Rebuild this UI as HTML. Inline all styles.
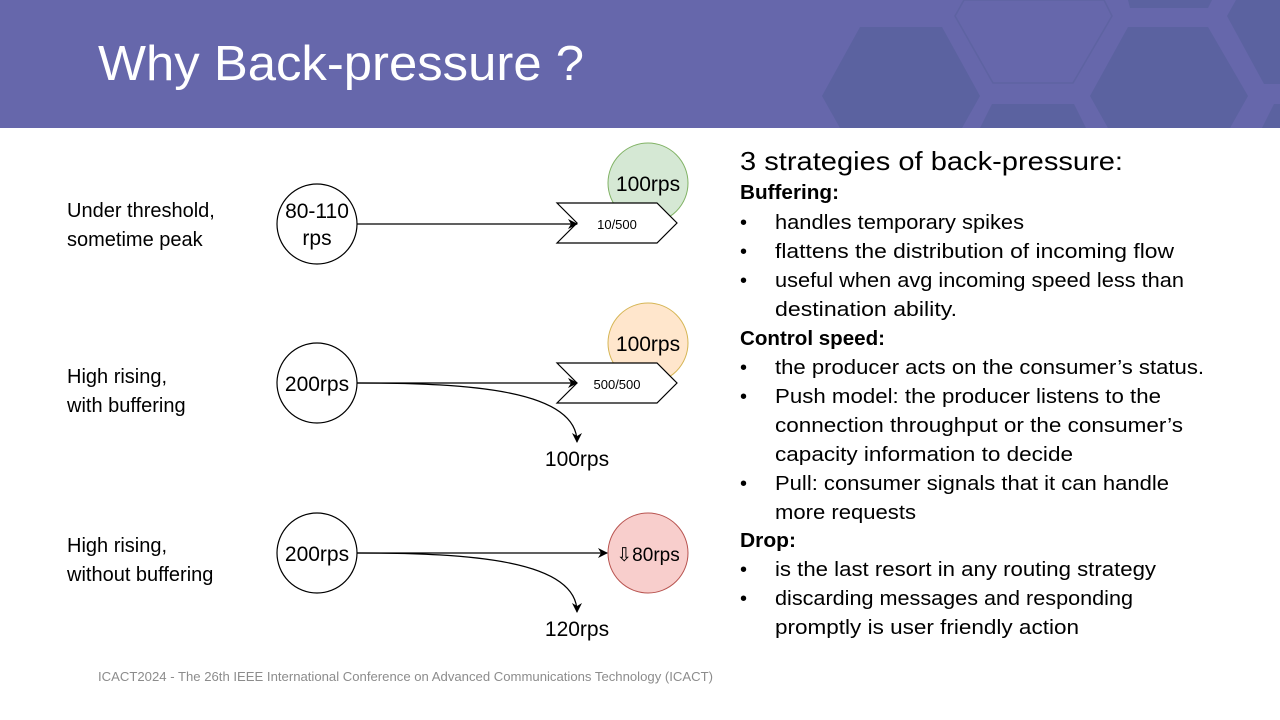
<!DOCTYPE html>
<html><head><meta charset="utf-8"><style>
html,body{margin:0;padding:0;background:#fff}
svg{display:block}
text{font-family:"Liberation Sans",sans-serif}
</style></head><body>
<svg width="1280" height="720" viewBox="0 0 1280 720" xmlns="http://www.w3.org/2000/svg">
<defs>
<marker id="ah" markerWidth="10" markerHeight="10" refX="9" refY="5" orient="auto" markerUnits="userSpaceOnUse">
<path d="M0,0 L10,5 L0,10 L3,5 Z" fill="#000"/>
</marker>
</defs>
<rect x="0" y="0" width="1280" height="128" fill="#6667ab"/>
<g fill="#5b62a0">
<polygon points="822,96 860,27 942,27 980,96 962,128 840,128"/>
<polygon points="1090,96 1128,27 1208,27 1248,96 1230,128 1108,128"/>
<polygon points="1128,0 1212,0 1208,8 1130,8"/>
<polygon points="1227,16 1236,0 1280,0 1280,84 1264,84"/>
<polygon points="980,128 992,104 1074,104 1086,128"/>
<polygon points="1262,128 1274,104 1280,104 1280,128"/>
</g>
<polygon points="955,16 964,0 1104,0 1112,16 1073,83 993,83" fill="none" stroke="#5e63a2" stroke-width="1.5"/>
<text x="98" y="80" font-size="49" fill="#fff" textLength="486" lengthAdjust="spacingAndGlyphs">Why Back-pressure ?</text>

<!-- left labels -->
<g font-size="20" fill="#000">
<text x="67" y="217">Under threshold,</text>
<text x="67" y="246">sometime peak</text>
<text x="67" y="383">High rising,</text>
<text x="67" y="412">with buffering</text>
<text x="67" y="552">High rising,</text>
<text x="67" y="581">without buffering</text>
</g>

<!-- row 1 -->
<circle cx="648" cy="183" r="40" fill="#d5e8d4" stroke="#82b366"/>
<text x="648" y="191" font-size="21" text-anchor="middle">100rps</text>
<polygon points="557,203 657,203 677,223 657,243 557,243 577,223" fill="#fff" stroke="#000" stroke-width="1.2"/>
<text x="617" y="229" font-size="13" text-anchor="middle">10/500</text>
<circle cx="317" cy="224" r="40" fill="#fff" stroke="#000" stroke-width="1.2"/>
<text x="317" y="218" font-size="21" text-anchor="middle">80-110</text>
<text x="317" y="245" font-size="21" text-anchor="middle">rps</text>
<line x1="357" y1="224" x2="577" y2="224" stroke="#000" stroke-width="1.2" marker-end="url(#ah)"/>

<!-- row 2 -->
<circle cx="648" cy="343" r="40" fill="#ffe6cc" stroke="#d6b656"/>
<text x="648" y="351" font-size="21" text-anchor="middle">100rps</text>
<polygon points="557,363 657,363 677,383 657,403 557,403 577,383" fill="#fff" stroke="#000" stroke-width="1.2"/>
<text x="617" y="389" font-size="13" text-anchor="middle">500/500</text>
<circle cx="317" cy="383" r="40" fill="#fff" stroke="#000" stroke-width="1.2"/>
<text x="317" y="391" font-size="21" text-anchor="middle">200rps</text>
<line x1="357" y1="383" x2="577" y2="383" stroke="#000" stroke-width="1.2" marker-end="url(#ah)"/>
<path d="M357,383 C470,383 577,390 577,442" fill="none" stroke="#000" stroke-width="1.2" marker-end="url(#ah)"/>
<text x="577" y="466" font-size="21" text-anchor="middle">100rps</text>

<!-- row 3 -->
<circle cx="648" cy="553" r="40" fill="#f8cecc" stroke="#b85450"/>
<text x="648" y="561" font-size="19" text-anchor="middle">⇩80rps</text>
<circle cx="317" cy="553" r="40" fill="#fff" stroke="#000" stroke-width="1.2"/>
<text x="317" y="561" font-size="21" text-anchor="middle">200rps</text>
<line x1="357" y1="553" x2="607" y2="553" stroke="#000" stroke-width="1.2" marker-end="url(#ah)"/>
<path d="M357,553 C470,553 577,560 577,612" fill="none" stroke="#000" stroke-width="1.2" marker-end="url(#ah)"/>
<text x="577" y="636" font-size="21" text-anchor="middle">120rps</text>

<!-- right text -->
<g font-size="20" fill="#000">
<text x="740" y="170" font-size="26" textLength="383" lengthAdjust="spacingAndGlyphs">3 strategies of back-pressure:</text>
<text x="740" y="199" font-weight="bold" textLength="99" lengthAdjust="spacingAndGlyphs">Buffering:</text>
<text x="740" y="229">•</text><text x="775" y="229" textLength="249" lengthAdjust="spacingAndGlyphs">handles temporary spikes</text>
<text x="740" y="258">•</text><text x="775" y="258" textLength="399" lengthAdjust="spacingAndGlyphs">flattens the distribution of incoming flow</text>
<text x="740" y="287">•</text><text x="775" y="287" textLength="409" lengthAdjust="spacingAndGlyphs">useful when avg incoming speed less than</text>
<text x="775" y="316" textLength="182" lengthAdjust="spacingAndGlyphs">destination ability.</text>
<text x="740" y="345" font-weight="bold" textLength="145" lengthAdjust="spacingAndGlyphs">Control speed:</text>
<text x="740" y="374">•</text><text x="775" y="374" textLength="429" lengthAdjust="spacingAndGlyphs">the producer acts on the consumer’s status.</text>
<text x="740" y="403">•</text><text x="775" y="403" textLength="386" lengthAdjust="spacingAndGlyphs">Push model: the producer listens to the</text>
<text x="775" y="432" textLength="408" lengthAdjust="spacingAndGlyphs">connection throughput or the consumer’s</text>
<text x="775" y="461" textLength="298" lengthAdjust="spacingAndGlyphs">capacity information to decide</text>
<text x="740" y="490">•</text><text x="775" y="490" textLength="394" lengthAdjust="spacingAndGlyphs">Pull: consumer signals that it can handle</text>
<text x="775" y="519" textLength="141" lengthAdjust="spacingAndGlyphs">more requests</text>
<text x="740" y="547" font-weight="bold" textLength="56" lengthAdjust="spacingAndGlyphs">Drop:</text>
<text x="740" y="576">•</text><text x="775" y="576" textLength="381" lengthAdjust="spacingAndGlyphs">is the last resort in any routing strategy</text>
<text x="740" y="605">•</text><text x="775" y="605" textLength="358" lengthAdjust="spacingAndGlyphs">discarding messages and responding</text>
<text x="775" y="634" textLength="304" lengthAdjust="spacingAndGlyphs">promptly is user friendly action</text>
</g>

<text x="98" y="681" font-size="13" fill="#8c8c8c" textLength="615" lengthAdjust="spacingAndGlyphs">ICACT2024 - The 26th IEEE International Conference on Advanced Communications Technology (ICACT)</text>
</svg>
</body></html>
